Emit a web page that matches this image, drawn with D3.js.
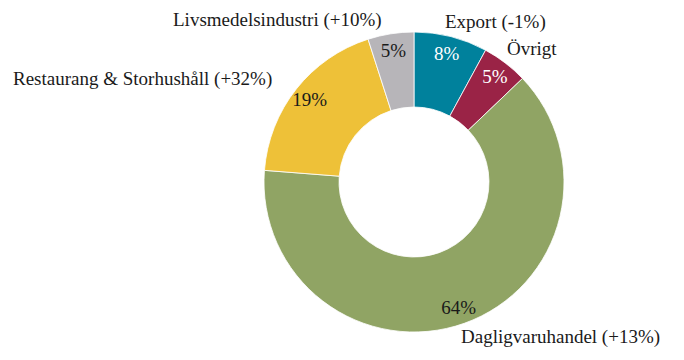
<!DOCTYPE html>
<html><head><meta charset="utf-8">
<script src="https://cdn.jsdelivr.net/npm/d3@7"></script>
<style>body{margin:0;background:#fff}svg{display:block}</style>
</head><body>
<svg id="c" width="684" height="360"></svg>
<script>
const categories = ["Export", "Övrigt", "Dagligvaruhandel", "Restaurang & Storhushåll", "Livsmedelsindustri"];
const shares = [8, 5, 64, 19, 5];
const changes = ["(-1%)", "", "(+13%)", "(+32%)", "(+10%)"];
const colors = ["#00819c", "#9a2346", "#90a464", "#eec138", "#b7b5b9"];
const pctColors = ["#ffffff", "#ffffff", "#1a1a1a", "#1a1a1a", "#1a1a1a"];

const W = 684, H = 360, cx = 414, cy = 182, R = 150, r0 = 75;
const font = "'Liberation Serif', 'DejaVu Serif', serif";
const fs = 19;

const svg = d3.select("#c");
const g = svg.append("g").attr("transform", `translate(${cx},${cy})`);
const pie = d3.pie().sort(null).value(d => d)(shares);
const arc = d3.arc().innerRadius(r0).outerRadius(R);
const labelArc = d3.arc().innerRadius(133).outerRadius(133);

g.selectAll("path").data(pie).join("path")
  .attr("d", arc).attr("fill", (d, i) => colors[i])
  .attr("stroke", "#fff").attr("stroke-width", 0.8);

g.selectAll("text.pct").data(pie).join("text").attr("class", "pct")
  .attr("transform", d => `translate(${labelArc.centroid(d)})`)
  .attr("text-anchor", "middle").attr("dominant-baseline", "central")
  .attr("font-family", font).attr("font-size", fs)
  .attr("fill", (d, i) => pctColors[i])
  .text((d, i) => shares[i] + "%");

// category label layout (anchor, x, baseline y)
const catLayout = [
  {a: "start", x: 445, y: 28},
  {a: "start", x: 507, y: 55},
  {a: "start", x: 461, y: 343},
  {a: "start", x: 13, y: 85},
  {a: "start", x: 173, y: 26}
];
svg.selectAll("text.cat").data(categories).join("text").attr("class", "cat")
  .attr("x", (d, i) => catLayout[i].x).attr("y", (d, i) => catLayout[i].y)
  .attr("text-anchor", (d, i) => catLayout[i].a)
  .attr("font-family", font).attr("font-size", fs).attr("fill", "#1a1a1a")
  .text((d, i) => changes[i] ? d + " " + changes[i] : d);
</script>
</body></html>
